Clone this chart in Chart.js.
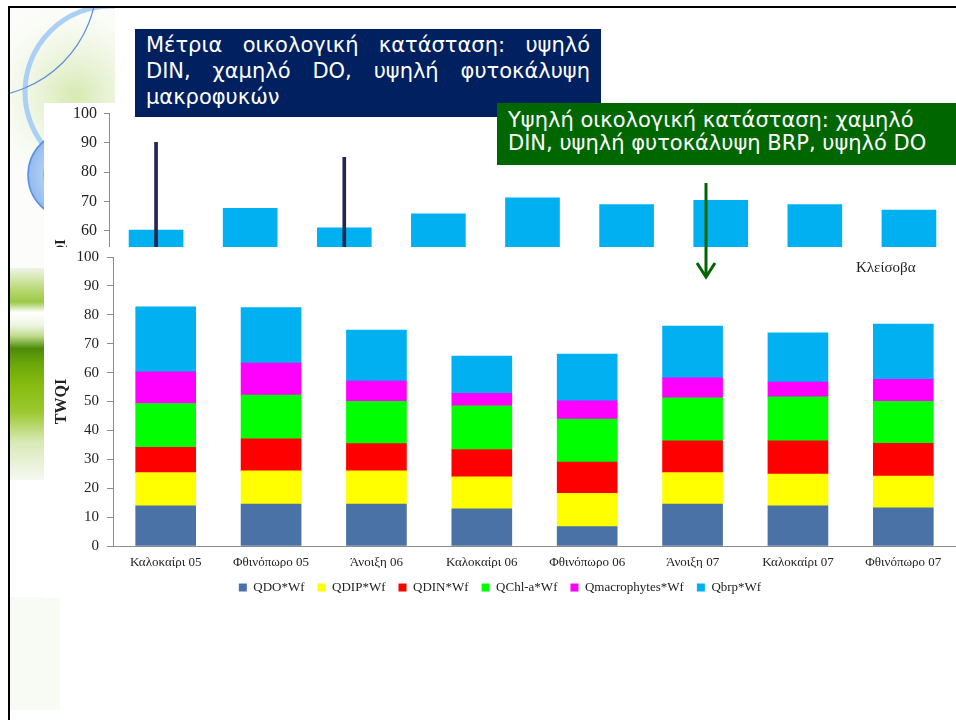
<!DOCTYPE html>
<html>
<head>
<meta charset="utf-8">
<script src="https://cdn.jsdelivr.net/npm/chart.js@4.4.1/dist/chart.umd.min.js"></script>
<style>
  html, body { margin: 0; padding: 0; }
  body { width: 956px; height: 720px; position: relative; overflow: hidden; background: #fff; }
  #bg { position: absolute; left: 0; top: 0; }
  #topWrap { position: absolute; left: 44px; top: 103px; width: 912px; height: 144px; overflow: hidden; background: #fff; }
  #topChart { position: relative; top: -6px; }
  #mainBack { position: absolute; left: 44px; top: 247px; width: 912px; height: 351px; background: #fff; }
  #mainWrap { position: absolute; left: 44px; top: 240px; width: 912px; height: 380px; }
  .box { position: absolute; color: #fff; font-family: "DejaVu Sans", sans-serif; box-sizing: border-box; white-space: nowrap; }
  #navyBox { left: 135px; top: 29px; width: 466px; height: 88px; background: #002060; font-size: 21px; line-height: 26px; padding: 3px 11px 0 11px; }
  #navyBox .jl { text-align: justify; text-align-last: justify; }
  #greenBox { left: 497px; top: 103px; width: 459px; height: 62px; background: #006600; font-size: 21px; line-height: 23px; padding: 6px 0 0 11px; }
  #site { position: absolute; left: 856px; top: 259px; font: 15px "Liberation Serif", serif; color: #222; }
  #overlay { position: absolute; left: 0; top: 0; pointer-events: none; }
  .edge { position: absolute; background: #000; }
</style>
</head>
<body>
<canvas id="bg" width="956" height="720"></canvas>

<div id="topWrap"><canvas id="topChart" width="912" height="350"></canvas></div>
<div id="mainBack"></div>
<div id="mainWrap"><canvas id="mainChart" width="912" height="380"></canvas></div>

<div id="navyBox" class="box">
  <div class="jl">Μέτρια οικολογική κατάσταση: υψηλό</div>
  <div class="jl">DIN, χαμηλό DO, υψηλή φυτοκάλυψη</div>
  <div>μακροφυκών</div>
</div>
<div id="greenBox" class="box">
  <div>Υψηλή οικολογική κατάσταση: χαμηλό</div>
  <div>DIN, υψηλή φυτοκάλυψη BRP, υψηλό DO</div>
</div>
<div id="site">Κλείσοβα</div>

<svg id="overlay" width="956" height="720">
  <line x1="706" y1="183" x2="706" y2="276" stroke="#006400" stroke-width="3"/>
  <polyline points="697,263 706,277 715,263" fill="none" stroke="#006400" stroke-width="3"/>
</svg>
<div class="edge" style="left:8px;top:6px;width:948px;height:2px"></div>
<div class="edge" style="left:8px;top:6px;width:2px;height:714px"></div>

<script>
// seasons of the stacked TWQI chart
const seasons = ['Καλοκαίρι 05', 'Φθινόπωρο 05', 'Άνοιξη 06', 'Καλοκαίρι 06',
                 'Φθινόπωρο 06', 'Άνοιξη 07', 'Καλοκαίρι 07', 'Φθινόπωρο 07'];

// weighted sub-index contributions
const qdoWf   = [13.9, 14.5, 14.5, 12.9, 6.7, 14.5, 13.9, 13.2];
const qdipWf  = [11.5, 11.5, 11.5, 11.0, 11.5, 10.9, 11.0, 11.0];
const qdinWf  = [8.7, 11.1, 9.4, 9.5, 10.8, 11.0, 11.5, 11.3];
const qchlWf  = [15.2, 15.1, 14.7, 15.1, 14.9, 14.9, 15.2, 14.6];
const qmacWf  = [11.0, 11.1, 7.0, 4.3, 6.3, 6.9, 5.1, 7.6];
const qbrpWf  = [22.5, 19.2, 17.6, 12.9, 16.2, 17.9, 17.1, 19.1];

// upper strip: total TWQI per sampling period, plus two marker values
const periods   = ['1', '2', '3', '4', '5', '6', '7', '8', '9'];
const twqiTotal = [60.3, 67.7, 61.1, 65.8, 71.3, 69.0, 70.4, 69.0, 67.1];
const markers   = [90.2, null, 85.1, null, null, null, null, null, null];

const yTicks = [0, 10, 20, 30, 40, 50, 60, 70, 80, 90, 100];

const serif = 'Liberation Serif';
const axisGray = '#8c8c8c';

// ---- slide background ----
(function drawBackground() {
  const c = document.getElementById('bg').getContext('2d');
  c.fillStyle = '#fff';
  c.fillRect(0, 0, 956, 720);

  c.save();
  c.beginPath();
  c.rect(10, 8, 105, 290);
  c.clip();
  let g = c.createRadialGradient(75, 95, 5, 75, 95, 90);
  g.addColorStop(0, 'rgba(205,228,160,0.75)');
  g.addColorStop(1, 'rgba(245,248,240,0.3)');
  c.fillStyle = g;
  c.fillRect(10, 8, 105, 290);

  c.strokeStyle = 'rgba(165,205,245,0.95)';
  c.lineWidth = 5;
  c.beginPath();
  c.arc(111, 92, 86, 0, Math.PI * 2);
  c.stroke();

  c.strokeStyle = '#5b8fe0';
  c.lineWidth = 1.2;
  c.beginPath();
  c.arc(-20, -20, 117, 0, Math.PI * 2);
  c.stroke();

  g = c.createRadialGradient(80, 175, 10, 72, 175, 45);
  g.addColorStop(0, '#e6f0fd');
  g.addColorStop(1, '#8fb9ef');
  c.fillStyle = g;
  c.beginPath();
  c.arc(72, 175, 44, 0, Math.PI * 2);
  c.fill();
  c.strokeStyle = '#5b8fe0';
  c.lineWidth = 1.5;
  c.stroke();
  c.strokeStyle = 'rgba(90,140,220,0.6)';
  c.beginPath();
  c.arc(78, 175, 34, 0, Math.PI * 2);
  c.stroke();
  c.restore();

  g = c.createLinearGradient(0, 268, 0, 480);
  g.addColorStop(0.00, '#eef5e6');
  g.addColorStop(0.11, '#b4d66a');
  g.addColorStop(0.16, '#9cc94a');
  g.addColorStop(0.21, '#ffffff');
  g.addColorStop(0.27, '#eef5e2');
  g.addColorStop(0.32, '#c0dc8c');
  g.addColorStop(0.38, '#4d8a0a');
  g.addColorStop(0.45, '#6aa70a');
  g.addColorStop(0.55, '#86bb10');
  g.addColorStop(0.68, '#9cc930');
  g.addColorStop(0.82, '#d8e9b5');
  g.addColorStop(1.00, '#f6f8f2');
  c.fillStyle = g;
  c.fillRect(10, 268, 34, 212);

  c.fillStyle = '#f7fbf3';
  c.fillRect(10, 597, 50, 113);
})();

// ---- upper strip (only its top part is visible) ----
new Chart(document.getElementById('topChart'), {
  type: 'bar',
  data: {
    labels: periods,
    datasets: [
      { data: markers, backgroundColor: '#23264f', barThickness: 3, grouped: false, order: 0 },
      { data: twqiTotal, backgroundColor: '#00b0f0', barThickness: 54, grouped: false, order: 1 }
    ]
  },
  options: {
    responsive: false,
    animation: false,
    layout: { padding: { top: 0, bottom: 40, left: 0, right: 0 } },
    plugins: { legend: { display: false }, tooltip: { enabled: false } },
    scales: {
      x: { display: false },
      y: {
        min: 0, max: 100,
        afterBuildTicks: s => { s.ticks = yTicks.map(v => ({ value: v })); },
        afterFit: s => { s.width = 65; },
        ticks: { font: { family: serif, size: 16 }, color: '#222', padding: 7 },
        grid: { drawOnChartArea: false, tickLength: 5, color: axisGray },
        border: { color: axisGray },
        title: { display: true, text: 'TWQI', color: '#222',
                 font: { family: serif, size: 15, weight: 'bold' }, padding: { top: 8, bottom: 0 } }
      }
    }
  }
});

// ---- stacked TWQI chart ----
const parts = [
  ['QDO*Wf', qdoWf, '#4a72a6'],
  ['QDIP*Wf', qdipWf, '#ffff00'],
  ['QDIN*Wf', qdinWf, '#ff0000'],
  ['QChl-a*Wf', qchlWf, '#00ff00'],
  ['Qmacrophytes*Wf', qmacWf, '#ff00ff'],
  ['Qbrp*Wf', qbrpWf, '#00b0f0']
];

new Chart(document.getElementById('mainChart'), {
  type: 'bar',
  data: {
    labels: seasons,
    datasets: parts.map(([label, data, color]) => ({
      label, data, backgroundColor: color, borderWidth: 0, barThickness: 60
    }))
  },
  options: {
    responsive: false,
    animation: false,
    layout: { padding: { top: 0, bottom: 16, left: 0, right: 0 } },
    plugins: {
      tooltip: { enabled: false },
      legend: {
        position: 'bottom',
        labels: { boxWidth: 8, boxHeight: 8, padding: 13, color: '#222',
                  font: { family: serif, size: 13 } }
      }
    },
    scales: {
      x: {
        stacked: true,
        afterFit: s => { s.height = 22; },
        grid: { display: false },
        border: { color: axisGray },
        ticks: { font: { family: serif, size: 13 }, color: '#222', padding: 1, maxRotation: 0 }
      },
      y: {
        stacked: true,
        min: 0, max: 100,
        afterBuildTicks: s => { s.ticks = yTicks.map(v => ({ value: v })); },
        afterFit: s => { s.width = 69; },
        ticks: { font: { family: serif, size: 15 }, color: '#222', padding: 8 },
        grid: { drawOnChartArea: false, tickLength: 6, color: axisGray },
        border: { color: axisGray },
        title: { display: true, text: 'TWQI', color: '#222',
                 font: { family: serif, size: 16, weight: 'bold' }, padding: { top: 8, bottom: 0 } }
      }
    }
  }
});
</script>
</body>
</html>
